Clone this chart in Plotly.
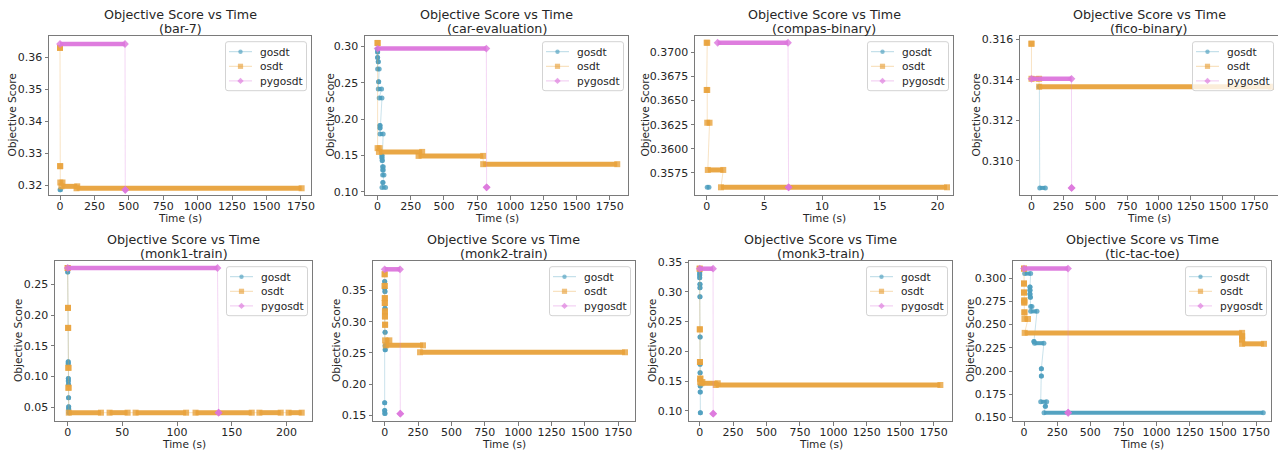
import plotly.graph_objects as go

# ---------------- data: (start time s, end time s, objective score) ----------------
DATASETS = ["bar-7", "car-evaluation", "compas-binary", "fico-binary",
            "monk1-train", "monk2-train", "monk3-train", "tic-tac-toe"]
SERIES = ["gosdt", "osdt", "pygosdt"]

BAR7_GOSDT = [(0, 4, 0.3186)]
BAR7_OSDT = [(0, 0, 0.3629), (1, 1, 0.3260), (2, 18, 0.3209), (10, 125, 0.3197), (120, 1755, 0.3191)]
BAR7_PYGOSDT = [(0, 472, 0.3641), (474, 474, 0.3186)]

CAR_GOSDT = [(0, 0, 0.2963), (0, 0, 0.2927), (0, 0, 0.2850), (5, 5, 0.2790), (0, 12, 0.2690),
             (8, 8, 0.2516), (5, 30, 0.2415), (12, 33, 0.2292), (18, 18, 0.1913), (18, 18, 0.1877),
             (18, 42, 0.1795), (33, 33, 0.1500), (33, 33, 0.1466), (35, 35, 0.1429), (37, 43, 0.1342),
             (38, 43, 0.1297), (38, 48, 0.1228), (40, 40, 0.1128), (33, 60, 0.1059)]
CAR_OSDT = [(0, 0, 0.3050), (0, 15, 0.1600), (10, 336, 0.1548), (309, 796, 0.1493), (796, 1807, 0.1379)]
CAR_PYGOSDT = [(0, 820, 0.2973), (822, 822, 0.1060)]

COMPAS_GOSDT = [(0.05, 0.2, 0.3560)]
COMPAS_OSDT = [(0, 0.05, 0.3710), (0, 0.05, 0.3661), (0.05, 0.25, 0.3627), (0.1, 1.44, 0.3578),
               (1.24, 20.83, 0.3560)]
COMPAS_PYGOSDT = [(0.95, 7.05, 0.3710), (7.1, 7.1, 0.3560)]

FICO_GOSDT = [(60, 62, 0.31366), (65, 109, 0.30867)]
FICO_OSDT = [(0, 0, 0.31578), (0, 60, 0.31405), (60, 1880, 0.31366)]
FICO_PYGOSDT = [(0, 314, 0.31405), (315, 315, 0.30867)]

MONK1_GOSDT = [(0, 0, 0.2707), (0.5, 0.5, 0.1239), (0.5, 0.5, 0.1207), (0.6, 0.6, 0.0967),
               (0.6, 0.6, 0.0924), (0.7, 0.7, 0.0870), (0.8, 0.8, 0.0652), (0.9, 0.9, 0.0505),
               (0.9, 0.9, 0.0467), (1.0, 1.5, 0.0408)]
MONK1_OSDT = [(0, 0, 0.2772), (0.3, 0.3, 0.2120), (0.4, 0.4, 0.1793), (0.5, 0.8, 0.1141),
              (0.6, 0.9, 0.0815), (1, 30.4, 0.0408), (38.3, 54.8, 0.0408), (62.1, 108.3, 0.0408),
              (116.9, 168.3, 0.0408), (175.3, 194.8, 0.0408), (202, 214, 0.0408)]
MONK1_PYGOSDT = [(0, 137, 0.2772), (138, 138, 0.0408)]

MONK2_GOSDT = [(0, 0, 0.3644), (0, 0, 0.3537), (2, 2, 0.3484), (2, 2, 0.3218), (3, 3, 0.2830),
               (3, 5, 0.2617), (3, 5, 0.2553), (0, 0, 0.1702), (0, 0, 0.1580), (0, 3, 0.1532)]
MONK2_OSDT = [(0, 0, 0.3761), (0, 0, 0.3574), (1, 1, 0.3378), (1, 1, 0.3300), (2, 2, 0.3165),
              (2, 2, 0.3085), (3, 3, 0.2952), (3, 35, 0.2702), (8, 287, 0.2622), (265, 1800, 0.2511)]
MONK2_PYGOSDT = [(0, 115, 0.3840), (117, 117, 0.1527)]

MONK3_GOSDT = [(0, 0, 0.3321), (0, 0, 0.3282), (0, 0, 0.3237), (2, 2, 0.3125), (2, 2, 0.3069),
               (2, 2, 0.2918), (3, 3, 0.2242), (3, 3, 0.1783), (3, 3, 0.1643), (3, 3, 0.1532),
               (4, 4, 0.1420), (4, 4, 0.1319), (5, 5, 0.0972)]
MONK3_OSDT = [(0, 0, 0.3388), (1, 1, 0.2370), (2, 2, 0.1822), (3, 6, 0.1543), (3, 20, 0.1487),
              (12, 135, 0.1465), (120, 1800, 0.1436)]
MONK3_PYGOSDT = [(0, 100, 0.3388), (101, 101, 0.0955)]

TTT_GOSDT = [(5, 50, 0.3050), (45, 45, 0.2907), (45, 45, 0.2870), (45, 45, 0.2829), (48, 48, 0.2796),
             (50, 60, 0.2696), (50, 98, 0.2643), (75, 75, 0.2318), (80, 150, 0.2300), (131, 131, 0.2025),
             (131, 131, 0.1946), (126, 171, 0.1668), (161, 161, 0.1621), (151, 1805, 0.1550)]
TTT_OSDT = [(0, 0, 0.3104), (0, 0, 0.2943), (0, 0, 0.2846), (2, 2, 0.2760), (2, 2, 0.2739),
            (3, 3, 0.2632), (3, 30, 0.2561), (5, 1645, 0.2411), (1645, 1645, 0.2375),
            (1645, 1645, 0.2340), (1645, 1810, 0.2293)]
TTT_PYGOSDT = [(0, 332, 0.3104), (333, 333, 0.1550)]

DATA = [
    [BAR7_GOSDT, BAR7_OSDT, BAR7_PYGOSDT],
    [CAR_GOSDT, CAR_OSDT, CAR_PYGOSDT],
    [COMPAS_GOSDT, COMPAS_OSDT, COMPAS_PYGOSDT],
    [FICO_GOSDT, FICO_OSDT, FICO_PYGOSDT],
    [MONK1_GOSDT, MONK1_OSDT, MONK1_PYGOSDT],
    [MONK2_GOSDT, MONK2_OSDT, MONK2_PYGOSDT],
    [MONK3_GOSDT, MONK3_OSDT, MONK3_PYGOSDT],
    [TTT_GOSDT, TTT_OSDT, TTT_PYGOSDT],
]

# tick values
X_TICKS_LONG = [0, 250, 500, 750, 1000, 1250, 1500, 1750]
X_TICKS_COMPAS = [0, 5, 10, 15, 20]
X_TICKS_MONK1 = [0, 50, 100, 150, 200]
Y_TICKS_BAR7 = [0.32, 0.33, 0.34, 0.35, 0.36]
Y_TICKS_CAR = [0.10, 0.15, 0.20, 0.25, 0.30]
Y_TICKS_COMPAS = [0.3575, 0.3600, 0.3625, 0.3650, 0.3675, 0.3700]
Y_TICKS_FICO = [0.310, 0.312, 0.314, 0.316]
Y_TICKS_MONK1 = [0.05, 0.10, 0.15, 0.20, 0.25]
Y_TICKS_MONK2 = [0.15, 0.20, 0.25, 0.30, 0.35]
Y_TICKS_MONK3 = [0.10, 0.15, 0.20, 0.25, 0.30, 0.35]
Y_TICKS_TTT = [0.150, 0.175, 0.200, 0.225, 0.250, 0.275, 0.300]

X_TICKS = [X_TICKS_LONG, X_TICKS_LONG, X_TICKS_COMPAS, X_TICKS_LONG,
           X_TICKS_MONK1, X_TICKS_LONG, X_TICKS_LONG, X_TICKS_LONG]
Y_TICKS = [Y_TICKS_BAR7, Y_TICKS_CAR, Y_TICKS_COMPAS, Y_TICKS_FICO,
           Y_TICKS_MONK1, Y_TICKS_MONK2, Y_TICKS_MONK3, Y_TICKS_TTT]
Y_FMT = [".2f", ".2f", ".4f", ".3f", ".2f", ".2f", ".2f", ".3f"]

# ---------------- layout / style ----------------
W, H = 1278, 452
BOXES = [(49, 311, 36, 195), (365, 628, 36, 195), (695, 953, 36, 195), (1020, 1279, 36, 195),
         (55, 312, 261, 421), (373, 635, 261, 421), (689, 952, 261, 421), (1013, 1271, 261, 421)]
YLABEL_X = [12, 330, 645, 976, 18, 336, 652, 970]
X_RANGES = [(-80, 1823), (-95, 1888), (-1.01, 21.35), (-90, 1935),
            (-11.6, 223.4), (-87.5, 1875), (-80, 1887), (-83, 1863)]
Y_RANGES = [(0.3170, 0.3666), (0.0954, 0.3146), (0.3552, 0.3717), (0.30832, 0.31616),
            (0.0272, 0.2886), (0.141, 0.3973), (0.0832, 0.3517), (0.1461, 0.3186)]

COLORS = [(76, 158, 190), (232, 162, 60), (220, 118, 220)]
SYMBOLS = ["circle", "square", "diamond"]
BAND_W = [4, 5, 4.5]
MSIZE = [5, 6, 6]
FONT = "DejaVu Sans"
TXT = "#262626"
FRAME = "#7a7a7a"


def rgba(c, a):
    return "rgba(%d,%d,%d,%.2f)" % (c[0], c[1], c[2], a)


def px(xp):
    return xp / W


def py(yp):
    return 1 - yp / H


def rounded_rect(x0, y0, x1, y1, rad):
    pts = [
        ("M", x0 + rad, y0), ("L", x1 - rad, y0), ("Q", x1, y0, x1, y0 + rad),
        ("L", x1, y1 - rad), ("Q", x1, y1, x1 - rad, y1), ("L", x0 + rad, y1),
        ("Q", x0, y1, x0, y1 - rad), ("L", x0, y0 + rad), ("Q", x0, y0, x0 + rad, y0),
    ]
    out = []
    for p in pts:
        if p[0] == "Q":
            out.append("Q %f,%f %f,%f" % (px(p[1]), py(p[2]), px(p[3]), py(p[4])))
        else:
            out.append("%s %f,%f" % (p[0], px(p[1]), py(p[2])))
    return " ".join(out) + " Z"


fig = go.Figure()
layout = dict(width=W, height=H, margin=dict(l=0, r=0, t=0, b=0, autoexpand=False),
              paper_bgcolor="white", plot_bgcolor="white", showlegend=False,
              font=dict(family=FONT, color=TXT, size=11))
annotations = []
shapes = []

for i, name in enumerate(DATASETS):
    k = i + 1
    xa = "x" if k == 1 else "x%d" % k
    ya = "y" if k == 1 else "y%d" % k
    l, r, t, b = BOXES[i]
    rr = min(r, W)
    dx = [px(l), px(rr)]
    dy = [py(b), py(t)]

    for s, sname in enumerate(SERIES):
        segs = DATA[i][s]
        c = COLORS[s]
        # thin connecting line through every recorded point
        cx, cy = [], []
        for (t0, t1, v) in segs:
            cx += [t0, t1]
            cy += [v, v]
        fig.add_trace(go.Scatter(x=cx, y=cy, mode="lines", xaxis=xa, yaxis=ya,
                                 line=dict(color=rgba(c, 0.3), width=1),
                                 showlegend=False, hoverinfo="skip"))
        # dense marker bands
        bx, by = [], []
        for (t0, t1, v) in segs:
            bx += [t0, t1, None]
            by += [v, v, None]
        fig.add_trace(go.Scatter(x=bx, y=by, mode="lines+markers", xaxis=xa, yaxis=ya,
                                 line=dict(color=rgba(c, 0.95), width=BAND_W[s]),
                                 marker=dict(symbol=SYMBOLS[s], size=MSIZE[s], color=rgba(c, 0.8),
                                             line=dict(width=0)),
                                 name=sname, showlegend=False, hoverinfo="skip"))

    axis_common = dict(showline=True, mirror=True, linecolor=FRAME, linewidth=1,
                       showgrid=False, zeroline=False, ticks="outside", ticklen=3.5,
                       tickwidth=1, tickcolor=FRAME, tickfont=dict(size=11, color=TXT),
                       automargin=False, fixedrange=True)
    layout["xaxis" if k == 1 else "xaxis%d" % k] = dict(
        axis_common, domain=dx, range=list(X_RANGES[i]), anchor=ya,
        tickmode="array", tickvals=X_TICKS[i], ticklabelstandoff=-3)
    layout["yaxis" if k == 1 else "yaxis%d" % k] = dict(
        axis_common, domain=dy, range=list(Y_RANGES[i]), anchor=xa,
        tickmode="array", tickvals=Y_TICKS[i], tickformat=Y_FMT[i])

    # subplot title (two lines)
    cxp = (l + rr) / 2
    annotations.append(dict(x=px(cxp), y=py(t - 21.5), xref="paper", yref="paper",
                            xanchor="center", yanchor="middle", showarrow=False,
                            text="Objective Score vs Time", font=dict(size=12.7, family=FONT, color=TXT)))
    annotations.append(dict(x=px(cxp), y=py(t - 7.3), xref="paper", yref="paper",
                            xanchor="center", yanchor="middle", showarrow=False,
                            text="(%s)" % name, font=dict(size=12.7, family=FONT, color=TXT)))
    # axis titles
    annotations.append(dict(x=px(cxp), y=py(b + 23), xref="paper", yref="paper",
                            xanchor="center", yanchor="middle", showarrow=False,
                            text="Time (s)", font=dict(size=10.6, family=FONT, color=TXT)))
    annotations.append(dict(x=px(YLABEL_X[i]), y=py((t + b) / 2), xref="paper", yref="paper",
                            xanchor="center", yanchor="middle", showarrow=False, textangle=-90,
                            text="Objective Score", font=dict(size=10.6, family=FONT, color=TXT)))

    # legend box (drawn inside the axes, upper right)
    bx1 = rr - 4.5
    bx0 = bx1 - 81
    by0 = t + 5.7
    by1 = by0 + 49
    shapes.append(dict(type="path", xref="paper", yref="paper", layer="above",
                       path=rounded_rect(bx0, by0, bx1, by1, 2.5),
                       fillcolor="rgba(255,255,255,0.8)", line=dict(color="#d3d3d3", width=1)))
    for s, sname in enumerate(SERIES):
        c = COLORS[s]
        ey = by0 + 10 + 14.6 * s
        shapes.append(dict(type="line", xref="paper", yref="paper", layer="above",
                           x0=px(bx0 + 3.5), x1=px(bx0 + 26.5), y0=py(ey), y1=py(ey),
                           line=dict(color=rgba(c, 0.4), width=1)))
        mx = bx0 + 15
        mcol = rgba(c, 0.65)
        if SYMBOLS[s] == "circle":
            rad = 2.2
            shapes.append(dict(type="circle", xref="paper", yref="paper", layer="above",
                               x0=px(mx - rad), x1=px(mx + rad), y0=py(ey + rad), y1=py(ey - rad),
                               fillcolor=mcol, line=dict(width=0)))
        elif SYMBOLS[s] == "square":
            hs = 2.6
            shapes.append(dict(type="rect", xref="paper", yref="paper", layer="above",
                               x0=px(mx - hs), x1=px(mx + hs), y0=py(ey + hs), y1=py(ey - hs),
                               fillcolor=mcol, line=dict(width=0)))
        else:
            hd = 3.2
            path = "M %f,%f L %f,%f L %f,%f L %f,%f Z" % (
                px(mx), py(ey - hd), px(mx + hd), py(ey), px(mx), py(ey + hd), px(mx - hd), py(ey))
            shapes.append(dict(type="path", xref="paper", yref="paper", layer="above",
                               path=path, fillcolor=mcol, line=dict(width=0)))
        annotations.append(dict(x=px(bx0 + 32), y=py(ey), xref="paper", yref="paper",
                                xanchor="left", yanchor="middle", showarrow=False,
                                text=sname, font=dict(size=10.6, family=FONT, color=TXT)))

layout["annotations"] = annotations
layout["shapes"] = shapes
fig.update_layout(**layout)
fig.write_html("out.html", config={"displayModeBar": False, "staticPlot": True},
               post_script="document.body.style.margin='0px';document.body.style.padding='0px';")
